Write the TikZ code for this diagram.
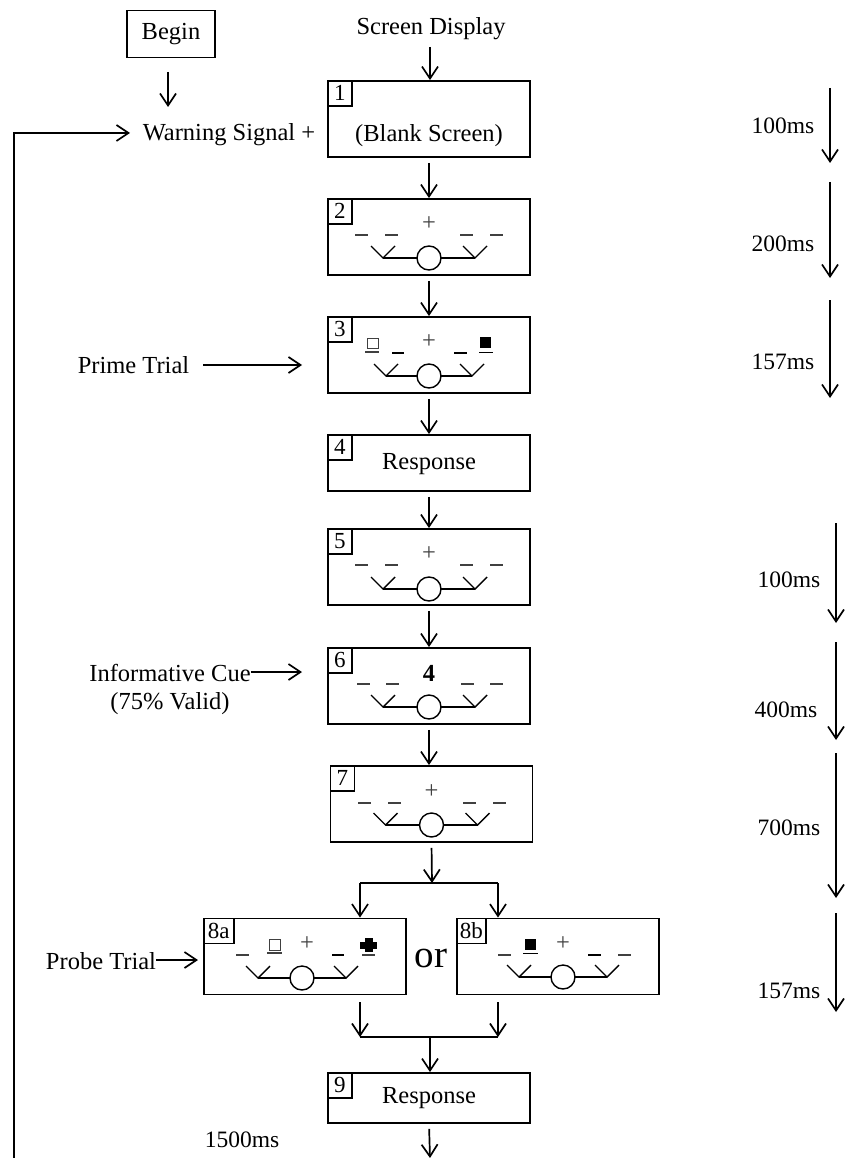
\documentclass[tikz,border=0pt]{standalone}
\usepackage{fontspec}
\setmainfont{Liberation Serif}
\usetikzlibrary{arrows.meta}

\tikzset{
  screen/.style={draw, line width=1.8pt, minimum width=202pt, minimum height=76pt, inner sep=0pt},
  tag/.style={draw, line width=1.5pt, minimum width=24pt, minimum height=25pt, inner sep=0pt, anchor=north west, font=\fontsize{23}{24}\selectfont},
  label/.style={inner sep=0pt, yshift=-1.5pt, font=\fontsize{24.5}{28}\selectfont},
  timing/.style={inner sep=0pt, yshift=-1pt, font=\fontsize{23.5}{28}\selectfont},
  flow/.style={line width=1.7pt, -{Straight Barb[length=12pt,width=16pt,line width=1.7pt]}},
  gapped/.style={flow, shorten <=5pt},
  wire/.style={line width=1.7pt},
  slot/.style={line width=1.1pt, black!75},
  thickslot/.style={line width=1.8pt}
}

% bar, ring and the two forks: centre x, y, half length of the bar
\newcommand{\fixture}[3]{
  \draw[line width=1.4pt] (#1-#3,#2) -- (#1+#3,#2);
  \draw[line width=1.4pt] (#1-#3-12,#2-12) -- (#1-#3,#2) -- (#1-#3+12,#2-12);
  \draw[line width=1.4pt] (#1+#3-12,#2-12) -- (#1+#3,#2) -- (#1+#3+12,#2-12);
  \filldraw[line width=1.4pt, fill=white] (#1,#2) circle (12pt);
}

\begin{document}
\begin{tikzpicture}[x=1pt, y=-1pt]
  \useasboundingbox (0,0) rectangle (848,1158);

  % Screens
  \node[screen] (box1) at (429,119) {};
  \node[screen] (box2) at (429,237) {};
  \node[screen] (box3) at (429,355) {};
  \node[screen, minimum height=56pt] (box4) at (429,463) {};
  \node[screen] (box5) at (429,567) {};
  \node[screen] (box6) at (429,686) {};
  \node[screen] (box7) at (431.5,804) {};
  \node[screen] (box8a) at (305,956.5) {};
  \node[screen] (box8b) at (558,956.5) {};
  \node[screen, minimum height=50pt] (box9) at (429,1098) {};

  \node[tag] (tag1) at (box1.north west) {1};
  \node[tag] (tag2) at (box2.north west) {2};
  \node[tag] (tag3) at (box3.north west) {3};
  \node[tag] (tag4) at (box4.north west) {4};
  \node[tag] (tag5) at (box5.north west) {5};
  \node[tag] (tag6) at (box6.north west) {6};
  \node[tag] (tag7) at (box7.north west) {7};
  \node[tag, minimum width=30pt] (tag8a) at (box8a.north west) {8a};
  \node[tag, minimum width=29pt] (tag8b) at (box8b.north west) {8b};
  \node[tag] (tag9) at (box9.north west) {9};

  \node[label] (blank) at (429,134) {(Blank Screen)};
  \node[label] (answer4) at (429,463) {Response};
  \node[label] (answer9) at (429,1097) {Response};

  % Screen contents
  \fixture{429}{258}{46}
  \fixture{429}{376}{43}
  \fixture{429}{589}{46}
  \fixture{429}{707}{46}
  \fixture{431.5}{825}{46}
  \fixture{302}{978}{44}
  \fixture{563}{977}{44}

  \node[label, black!75] (plus2) at (429,222) {+};
  \node[label, black!75] (plus3) at (429,340) {+};
  \node[label, black!75] (plus5) at (429,552) {+};
  \node[label] (cue6) at (429,672) {\textbf{4}};
  \node[label, black!75] (plus7) at (431.5,790) {+};
  \node[label, black!75] (plus8a) at (307,942) {+};
  \node[label, black!75] (plus8b) at (563,942) {+};

  \foreach \x in {355,385,460,490} \draw[slot] (\x,235) -- ++(13,0);
  \foreach \x in {355,385,460,490} \draw[slot] (\x,565) -- ++(13,0);
  \foreach \x in {357,386,461,490} \draw[slot] (\x,684) -- ++(13,0);
  \foreach \x in {358,388,463,493} \draw[slot] (\x,803) -- ++(13,0);

  % Prime and probe marks
  \draw[line width=1pt, black!75] (367,338) rectangle (378,348);
  \draw[slot] (365,352) -- (379,352);
  \draw[thickslot] (392,353) -- (404,353);
  \draw[thickslot] (454,353) -- (467,353);
  \fill (480,337) rectangle (491,348);
  \draw[thickslot] (479,352.5) -- (493,352.5);

  \draw[slot] (236,955) -- (249,955);
  \draw[line width=1pt, black!75] (269,939) rectangle (280,950);
  \draw[slot] (267,953) -- (282,953);
  \draw[thickslot] (332,955) -- (344,955);
  \fill (360,941.5) rectangle (377,948.5);
  \fill (364.5,938) rectangle (372.5,952);
  \draw[slot] (362,955) -- (375,955);

  \draw[slot] (498,955) -- (511,955);
  \fill (525,939) rectangle (536,950);
  \draw[thickslot] (523,953.5) -- (538,953.5);
  \draw[thickslot] (588,955) -- (601,955);
  \draw[slot] (618,955) -- (631,955);

  % Labels
  \node[draw, line width=1.8pt, label, yshift=1.5pt, minimum width=88pt, minimum height=47pt] (begin) at (171,34) {Begin};
  \node[label] (display) at (431,27) {Screen Display};
  \node[label] (warning) at (229,133) {Warning Signal +};
  \node[label] (prime) at (133.5,364) {Prime Trial};
  \node[label] (cue) at (170,671) {Informative Cue};
  \node[label] (valid) at (170,702) {(75\% Valid)};
  \node[label] (probe) at (101,960) {Probe Trial};
  \node[font=\fontsize{39}{44}\selectfont, inner sep=0pt] (or) at (431,958) {or};
  \node[timing] (iti) at (242,1139) {1500ms};

  % Flow through the screens
  \coordinate (top) at (430,47);
  \coordinate (split) at (432,883);
  \coordinate (splitL) at (360,883);
  \coordinate (splitR) at (498,883);
  \coordinate (downL) at (360,1002);
  \coordinate (downR) at (498,1002);
  \coordinate (joinL) at (360,1037);
  \coordinate (joinR) at (498,1037);
  \coordinate (join) at (430,1037);
  \coordinate (end) at (430,1158);
  \coordinate (beginout) at (168,72);
  \coordinate (beginin) at (168,107);
  \coordinate (corner) at (14,133);
  \coordinate (cornerin) at (130,133);
  \coordinate (return) at (14,1158);
  \coordinate (primeout) at (203,365);
  \coordinate (primein) at (302,365);
  \coordinate (cuein) at (302,672);
  \coordinate (probein) at (198,960);

  \draw[flow] (top) -- (top |- box1.north);
  \foreach \a/\b in {box1/box2, box2/box3, box3/box4, box4/box5, box5/box6}
    \draw[gapped] (\a.south) -- (\b.north);
  \draw[gapped] (box6.south) -- (box6.south |- box7.north);
  \draw[gapped] (box7.south) -- (split);
  \draw[wire] (splitL) -- (splitR);
  \draw[flow] (splitL) -- (splitL |- box8a.north);
  \draw[flow] (splitR) -- (splitR |- box8b.north);
  \draw[flow] (downL) -- (joinL);
  \draw[flow] (downR) -- (joinR);
  \draw[wire] (joinL) -- (joinR);
  \draw[flow] (join) -- (join |- box9.north);
  \draw[gapped] (box9.south) -- (end);

  \draw[flow] (beginout) -- (beginin);
  \draw[flow] (return) -- (corner) -- (cornerin);
  \draw[flow] (primeout) -- (primein);
  \draw[flow] (cue.east |- cuein) -- (cuein);
  \draw[flow] (probe.east |- probein) -- (probein);

  % Timing
  \foreach \n/\t/\tx/\ty/\x/\ya/\yb in {a/100ms/783/125/830/88/163, b/200ms/783/243/830/182/278,
      c/157ms/783/361/830/300/398, d/100ms/789/579/836/523/623, e/400ms/786/709/836/642/740,
      f/700ms/789/827/836/753/898, g/157ms/789/990/836/913/1012} {
    \node[timing] (time\n) at (\tx,\ty) {\t};
    \coordinate (from\n) at (\x,\ya);
    \coordinate (to\n) at (\x,\yb);
    \draw[flow] (from\n) -- (to\n);
  }
\end{tikzpicture}
\end{document}
